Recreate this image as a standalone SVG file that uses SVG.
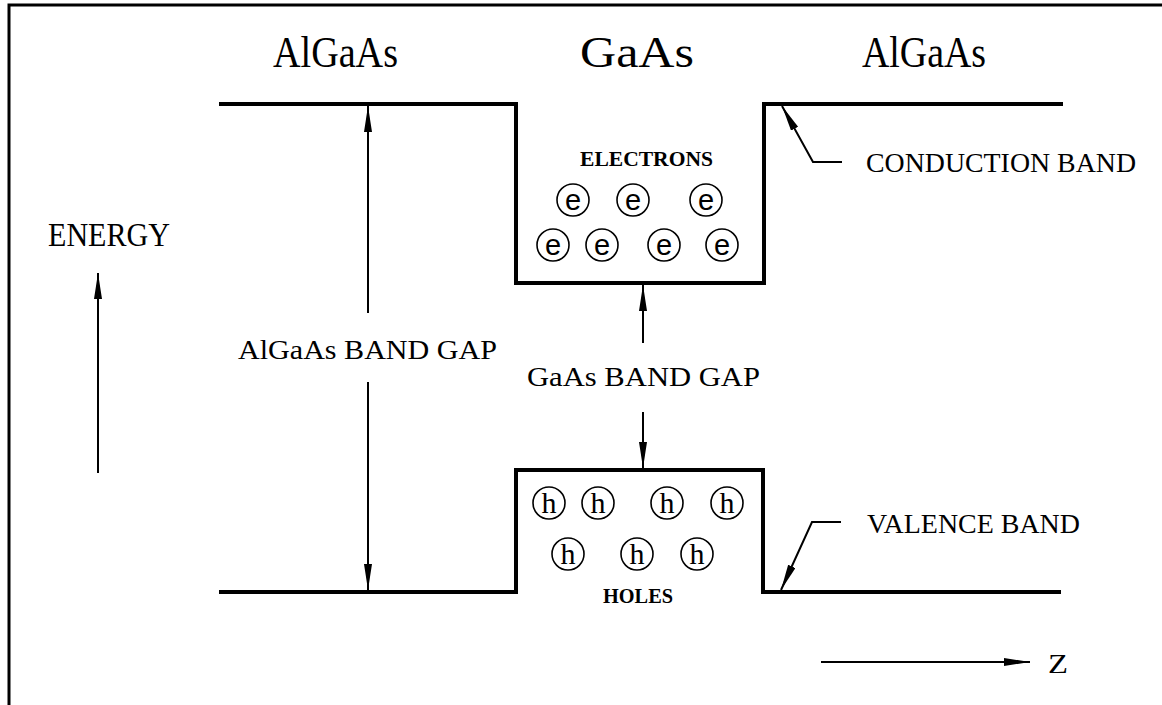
<svg xmlns="http://www.w3.org/2000/svg" width="1162" height="705" viewBox="0 0 1162 705">
<style>
.band{fill:none;stroke:#000;stroke-width:4;stroke-linejoin:miter}
.ln{fill:none;stroke:#000;stroke-width:2}
.frame{fill:none;stroke:#000;stroke-width:3}
.hd{font-family:"Liberation Serif",serif;font-size:44px;fill:#000}
.lb{font-family:"Liberation Serif",serif;font-size:27px;fill:#000}
.sm{font-family:"Liberation Serif",serif;font-size:22px;fill:#000;font-weight:bold}
.pc{fill:none;stroke:#000;stroke-width:1.6}
.e{font-family:"Liberation Sans",sans-serif;font-size:29px;fill:#000;text-anchor:middle}
.h{font-family:"Liberation Serif",serif;font-size:30px;fill:#000;text-anchor:middle}
</style>
<defs>
<marker id="ah" markerUnits="userSpaceOnUse" markerWidth="28" markerHeight="10" refX="26" refY="4" orient="auto">
<path d="M0,0 L26,4 L0,8 Z" fill="#000"/>
</marker>
</defs>
<rect width="1162" height="705" fill="#fff"/>
<g id="frame">
<path class="frame" d="M9,705 L9,5 L1162,5"/>
</g>
<g id="headings">
<text class="hd" x="273" y="67" textLength="125" lengthAdjust="spacingAndGlyphs">AlGaAs</text>
<text class="hd" x="580" y="67" textLength="114" lengthAdjust="spacingAndGlyphs">GaAs</text>
<text class="hd" x="862" y="67" textLength="124" lengthAdjust="spacingAndGlyphs">AlGaAs</text>
</g>
<g id="conduction-band">
<path class="band" d="M219,104 L516,104 L516,283 L764,283 L764,104 L1063,104"/>
</g>
<g id="valence-band">
<path class="band" d="M219,592 L516,592 L516,470 L763,470 L763,592 L1061,592"/>
</g>
<g id="electrons">
<text class="sm" x="580" y="166" textLength="133" lengthAdjust="spacingAndGlyphs">ELECTRONS</text>
<circle class="pc" cx="573" cy="200" r="16"/><text class="e" x="573" y="210">e</text>
<circle class="pc" cx="633" cy="200" r="16"/><text class="e" x="633" y="210">e</text>
<circle class="pc" cx="706" cy="200" r="16"/><text class="e" x="706" y="210">e</text>
<circle class="pc" cx="553" cy="245" r="16"/><text class="e" x="553" y="255">e</text>
<circle class="pc" cx="602" cy="245" r="16"/><text class="e" x="602" y="255">e</text>
<circle class="pc" cx="664" cy="245" r="16"/><text class="e" x="664" y="255">e</text>
<circle class="pc" cx="722" cy="245" r="16"/><text class="e" x="722" y="255">e</text>
</g>
<g id="holes">
<circle class="pc" cx="549" cy="503" r="16"/><text class="h" x="549" y="513">h</text>
<circle class="pc" cx="598" cy="503" r="16"/><text class="h" x="598" y="513">h</text>
<circle class="pc" cx="667" cy="503" r="16"/><text class="h" x="667" y="513">h</text>
<circle class="pc" cx="727" cy="503" r="16"/><text class="h" x="727" y="513">h</text>
<circle class="pc" cx="568" cy="554" r="16"/><text class="h" x="568" y="564">h</text>
<circle class="pc" cx="637" cy="554" r="16"/><text class="h" x="637" y="564">h</text>
<circle class="pc" cx="697" cy="554" r="16"/><text class="h" x="697" y="564">h</text>
<text class="sm" x="603" y="603" textLength="70" lengthAdjust="spacingAndGlyphs">HOLES</text>
</g>
<g id="labels">
<text class="lb" x="48" y="246" textLength="122" lengthAdjust="spacingAndGlyphs" style="font-size:33px">ENERGY</text>
<text class="lb" x="238" y="359" textLength="259" lengthAdjust="spacingAndGlyphs">AlGaAs BAND GAP</text>
<text class="lb" x="527" y="386" textLength="233" lengthAdjust="spacingAndGlyphs">GaAs BAND GAP</text>
<text class="lb" x="866" y="172" textLength="270" lengthAdjust="spacingAndGlyphs">CONDUCTION BAND</text>
<text class="lb" x="867" y="533" textLength="213" lengthAdjust="spacingAndGlyphs">VALENCE BAND</text>
<text class="lb" x="1048" y="673" textLength="20" lengthAdjust="spacingAndGlyphs">Z</text>
</g>
<g id="connectors">
<line class="ln" x1="98" y1="473" x2="98" y2="273" marker-end="url(#ah)"/>
<line class="ln" x1="368" y1="313" x2="368" y2="106" marker-end="url(#ah)"/>
<line class="ln" x1="368" y1="382" x2="368" y2="590" marker-end="url(#ah)"/>
<line class="ln" x1="643" y1="343" x2="643" y2="285" marker-end="url(#ah)"/>
<line class="ln" x1="643" y1="412" x2="643" y2="468" marker-end="url(#ah)"/>
<path class="ln" d="M842,162 L813,162 L782,106" marker-end="url(#ah)"/>
<path class="ln" d="M841,522 L812,522 L781,590" marker-end="url(#ah)"/>
<line class="ln" x1="821" y1="662" x2="1030" y2="662" marker-end="url(#ah)"/>
</g>
</svg>
